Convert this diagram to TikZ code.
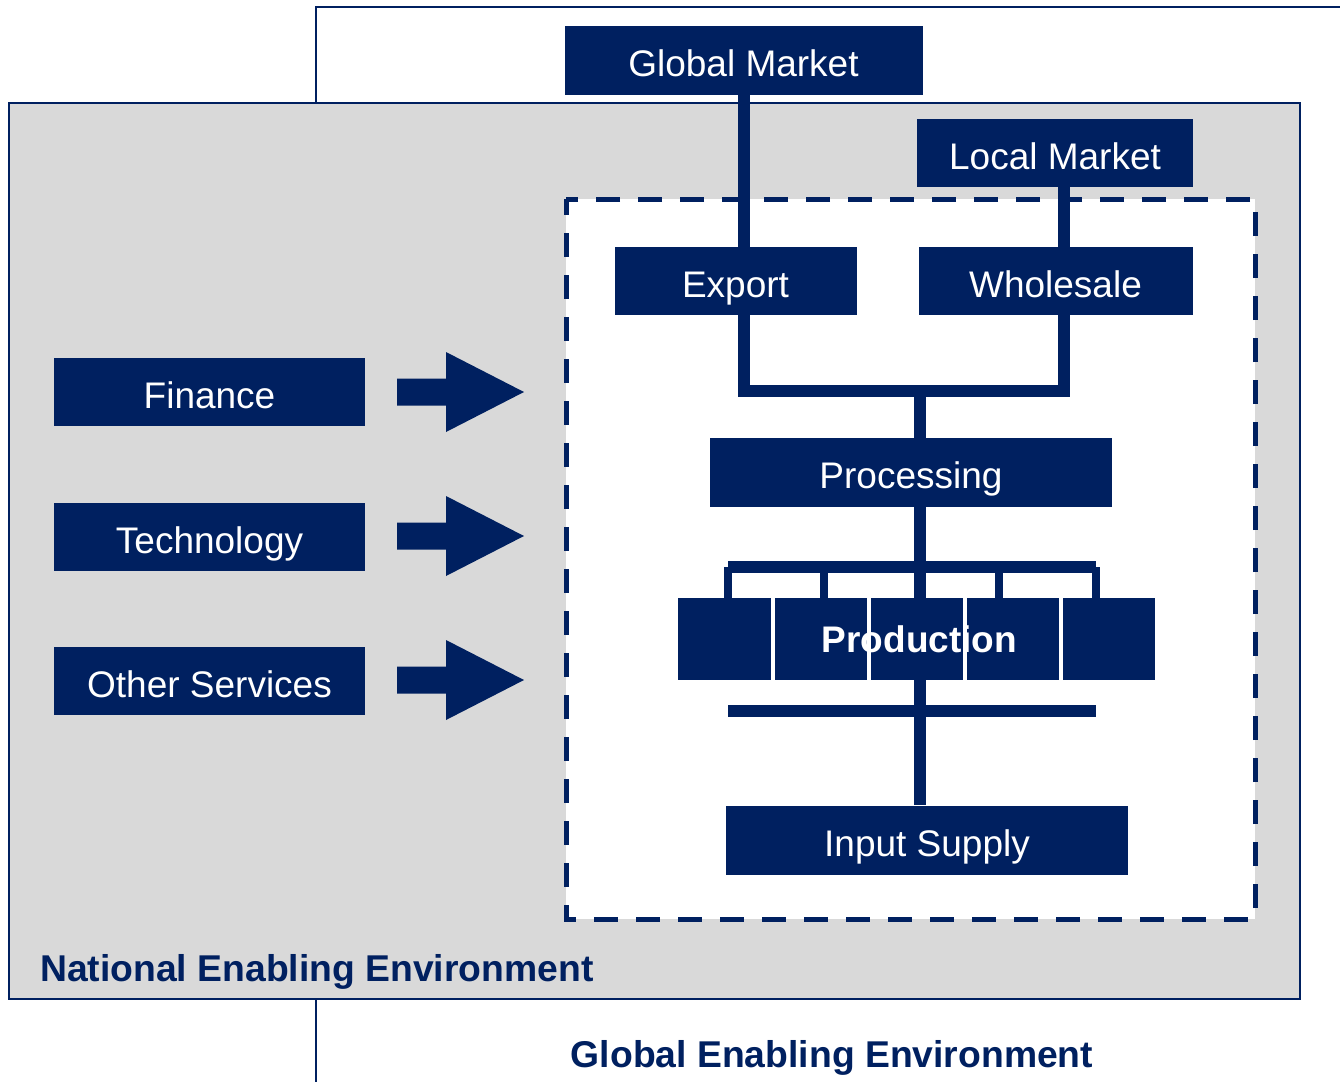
\documentclass[tikz,border=0pt]{standalone}
\usepackage{fontspec}
\setmainfont{Liberation Sans}
\definecolor{navy}{HTML}{002060}
\definecolor{envgray}{HTML}{D9D9D9}
\begin{document}
\begin{tikzpicture}[x=1pt,y=-1pt,
  box/.style={rectangle,fill=navy,draw=none,inner sep=0pt,text=white,
    font=\fontsize{37}{44}\selectfont,text height=26.5pt,text depth=0pt},
  btxt/.style={text height=26.5pt,text depth=0pt,inner sep=0pt,yshift=-3pt},
  link/.style={draw=navy,line width=12pt},
  drop/.style={draw=navy,line width=8pt},
  envlabel/.style={text=navy,font=\fontsize{37.3}{44}\selectfont\bfseries,inner sep=0pt,
    text height=26.7pt,text depth=0pt}]
\useasboundingbox (0,0) rectangle (1340,1081);
\clip (0,0) rectangle (1340,1081);
% global enabling environment
\draw[navy,line width=2pt] (316,1100) -- (316,7) -- (1360,7);
% national enabling environment
\draw[navy,line width=2pt,fill=envgray] (9,103) rectangle (1300,999);
% value chain boundary
\draw[navy,line width=5pt,fill=white,dash pattern=on 24pt off 18pt,dash phase=8pt] (566,199) rectangle (1255,919);

% boxes
\node[box,minimum width=358pt,minimum height=68pt] (gm) at (743.5,60.5) {};
\node[box,minimum width=276pt,minimum height=68pt] (lm) at (1055,153) {};
\node[box,minimum width=242pt,minimum height=68pt] (ex) at (735.5,281) {};
\node[box,minimum width=274pt,minimum height=68pt] (wh) at (1055.5,281) {};
\node[box,minimum width=402pt,minimum height=69pt] (pr) at (911,472.5) {};
\node[box,minimum width=402pt,minimum height=69pt] (is) at (927,840) {};
\node[box,minimum width=311pt,minimum height=68pt] (fi) at (209.5,392) {};
\node[box,minimum width=311pt,minimum height=68pt] (te) at (209.5,537) {};
\node[box,minimum width=311pt,minimum height=68pt] (os) at (209.5,681) {};

% box texts
\begin{scope}[every node/.style={btxt,text=white,font=\fontsize{37}{44}\selectfont}]
\node at (gm) {Global Market};
\node at (lm) {Local Market};
\node at (ex) {Export};
\node at (wh) {Wholesale};
\node at (pr) {Processing};
\node at (is) {Input Supply};
\node at (fi) {Finance};
\node at (te) {Technology};
\node at (os) {Other Services};
\end{scope}

% connectors top
\coordinate (jl) at (744,391);
\coordinate (jr) at (1063.5,391);
\coordinate (jm) at (919.5,391);
\draw[link] (744,0 |- gm.south) -- (744,0 |- ex.north);
\draw[link] (1063.5,0 |- lm.south) -- (1063.5,0 |- wh.north);
\draw[link] (744,0 |- ex.south) -- (jl) -- (jr) -- (1063.5,0 |- wh.south);
\draw[link] (jm) -- (jm |- pr.north);
\draw[link] (jm |- pr.south) -- (jm |- is.north);

% production group
\draw[link] (728,567) -- (1096,567);
\foreach \x in {728,823.5,999,1095.5}{\draw[drop] (\x,567) -- (\x,599);}
\foreach \l/\r in {678/771,775/867,871/963,967/1059,1063/1155}{
  \fill[navy] (\l,598) rectangle (\r,680);}
\node[btxt,text=white,font=\fontsize{37}{44}\selectfont\bfseries] (pd) at (919.5,636) {Production};
\fill[navy] (728,705) rectangle (1096,717);

% arrows
\foreach \y in {392,536,680}{
  \fill[navy] (397,\y-13.5) -- (446,\y-13.5) -- (446,\y-40) -- (524,\y) -- (446,\y+40) -- (446,\y+13.5) -- (397,\y+13.5) -- cycle;}

% labels
\node[envlabel,anchor=west] (ne) at (40,968) {National Enabling Environment};
\node[envlabel] (ge) at (832,1054) {Global Enabling Environment};
\end{tikzpicture}
\end{document}
